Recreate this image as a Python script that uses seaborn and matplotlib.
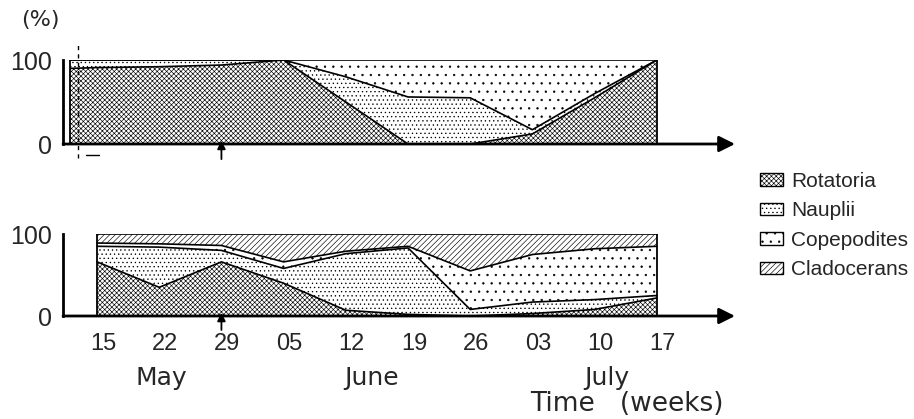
import numpy as np
import pandas as pd
import matplotlib
matplotlib.use("Agg")
import matplotlib.pyplot as plt
import matplotlib.transforms as mtransforms
from matplotlib.patches import Patch
import seaborn as sns

# Sampling days counted from 15 May
days_top = [-3, 0, 7, 14, 21, 28, 35, 42, 49, 56, 63]
rotatoria_top = [90, 91, 92, 94, 100, 50, 0, 0, 12, 55, 100]
nauplii_top = [10, 9, 8, 6, 0, 30, 56, 55, 5, 5, 0]
copepodites_top = [0, 0, 0, 0, 0, 20, 44, 45, 83, 40, 0]

days_bottom = [0, 7, 14, 21, 28, 35, 42, 49, 56, 63]
rotatoria_bottom = [66, 35, 66, 40, 7, 2, 0, 3, 8, 22]
nauplii_bottom = [19, 49, 14, 18, 69, 81, 8, 14, 12, 3]
copepodites_bottom = [4, 4, 6, 8, 3, 2, 47, 58, 62, 60]
cladocerans_bottom = [11, 12, 14, 34, 21, 15, 45, 25, 18, 15]

tick_days = [0, 7, 14, 21, 28, 35, 42, 49, 56, 63]
tick_labels = ["15", "22", "29", "05", "12", "19", "26", "03", "10", "17"]
groups = ["Rotatoria", "Nauplii", "Copepodites", "Cladocerans"]
hatches = {"Rotatoria": "xxxxxxx", "Nauplii": "....", "Copepodites": "..",
           "Cladocerans": "//////"}

sns.set_style("white")
plt.rcParams["font.family"] = ["Liberation Sans", "DejaVu Sans"]
plt.rcParams["hatch.linewidth"] = 0.45
plt.rcParams["hatch.color"] = "black"
WORD_FONT = ["DejaVu Sans"]

fig = plt.figure(figsize=(9.14, 4.19), dpi=100)
W, H = 914, 419
XMIN, XMAX = -3.83, 71.8


def axes_px(left, right, y_zero, y_full):
    return fig.add_axes([left / W, 1 - y_zero / H, (right - left) / W,
                         (y_zero - y_full) / H])


ax_top = axes_px(63, 735, 144, 60)
ax_bot = axes_px(63, 735, 316, 234)


def draw_panel(ax, days, layers):
    days = np.asarray(days, dtype=float)
    lower = np.zeros_like(days)
    rows = []
    for name, vals in layers:
        upper = lower + np.asarray(vals, dtype=float)
        ax.fill_between(days, lower, upper, facecolor="white",
                        edgecolor="black", hatch=hatches[name], linewidth=0)
        rows += [{"day": d, "pct": u, "edge": name} for d, u in zip(days, upper)]
        lower = upper
    df = pd.DataFrame(rows)
    sns.lineplot(data=df, x="day", y="pct", units="edge", estimator=None,
                 color="black", linewidth=1.2, ax=ax, legend=False)
    ax.vlines([days[0], days[-1]], 0, 100, color="black", linewidth=1.3)
    ax.set_xlim(XMIN, XMAX)
    ax.set_ylim(0, 100)
    for side in ["top", "right", "bottom"]:
        ax.spines[side].set_visible(False)
    ax.spines["left"].set_linewidth(2)
    ax.spines["left"].set_color("black")
    ax.annotate("", xy=(XMAX, 0), xytext=(XMIN, 0), xycoords="data",
                arrowprops=dict(arrowstyle="-|>", lw=2, color="black",
                                mutation_scale=24, shrinkA=0, shrinkB=0),
                annotation_clip=False)
    ax.set_yticks([0, 100])
    ax.set_yticklabels(["0", "100"], fontsize=18)
    ax.tick_params(axis="y", direction="in", length=5, width=1.5, pad=8)
    ax.set_xticks(tick_days)
    ax.tick_params(axis="x", direction="in", length=4, width=1, pad=12)
    ax.set_xlabel("")
    ax.set_ylabel("")


draw_panel(ax_top, days_top, [("Rotatoria", rotatoria_top),
                              ("Nauplii", nauplii_top),
                              ("Copepodites", copepodites_top)])
draw_panel(ax_bot, days_bottom, [("Rotatoria", rotatoria_bottom),
                                 ("Nauplii", nauplii_bottom),
                                 ("Copepodites", copepodites_bottom),
                                 ("Cladocerans", cladocerans_bottom)])

ax_top.set_xticklabels([])
ax_bot.set_xticklabels(tick_labels, fontsize=17)
shift = mtransforms.ScaledTranslation(6 / 100, 0, fig.dpi_scale_trans)
for lab in ax_bot.get_xticklabels():
    lab.set_transform(lab.get_transform() + shift)

# dashed marker line at the start of the upper series
ax_top.plot([-2.1, -2.1], [-17, 120], color="black", lw=1, ls=(0, (3, 3)),
            clip_on=False)
ax_top.plot([-1.2, 0.2], [-13, -13], color="black", lw=1, clip_on=False)

# arrows marking 29 May
for ax, base in [(ax_top, -18), (ax_bot, -17)]:
    ax.annotate("", xy=(14, 4), xytext=(14, base),
                arrowprops=dict(arrowstyle="-|>", lw=1.3, color="black",
                                mutation_scale=12, shrinkA=0, shrinkB=0),
                annotation_clip=False)

fig.text(40 / W, 1 - 20 / H, "(%)", fontsize=16, ha="center", va="center",
         family=WORD_FONT)
for label, xp in [("May", 161), ("June", 372), ("July", 607)]:
    fig.text(xp / W, 1 - 378 / H, label, fontsize=18, ha="center",
             va="center", family=WORD_FONT)
fig.text(627 / W, 1 - 404 / H, "Time   (weeks)", fontsize=19, ha="center",
         va="center", family=WORD_FONT)

handles = [Patch(facecolor="white", edgecolor="black", hatch=hatches[g],
                 linewidth=1) for g in groups]
fig.legend(handles, groups, loc="upper left",
           bbox_to_anchor=(760 / W, 1 - 172 / H), frameon=False,
           prop={"family": "Liberation Sans", "size": 15},
           handlelength=1.1, handleheight=0.55,
           handletextpad=0.4, labelspacing=0.5, borderpad=0, borderaxespad=0)

fig.savefig("out.png", dpi=100)
